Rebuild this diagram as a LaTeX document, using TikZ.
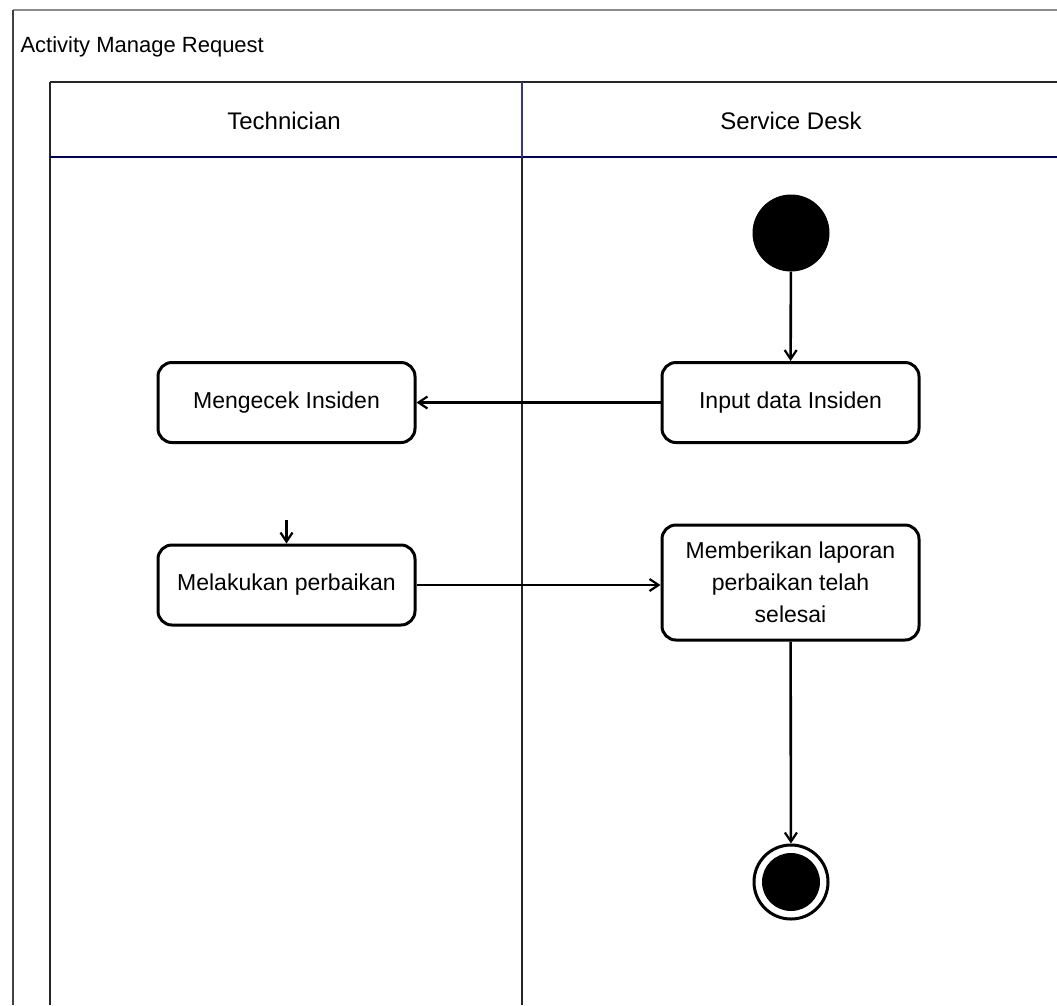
\documentclass[tikz,border=0pt]{standalone}
\usepackage{fontspec}
\setmainfont{Liberation Sans}
\usetikzlibrary{arrows.meta}
\begin{document}
\begin{tikzpicture}[x=1pt,y=-1pt,
  frame/.style={draw=black!75,line width=2.6pt},
  lane/.style={draw=black!85,line width=2.4pt},
  action/.style={draw=black,line width=3pt,rounded corners=14pt,fill=white,
    minimum width=257pt,minimum height=80pt,align=center,inner sep=4pt,
    font=\fontsize{23}{32}\selectfont},
  flow/.style={draw=black,line width=2.6pt,-{Straight Barb[length=9pt,width=12pt,line width=2.2pt]}},
  txt/.style={font=\fontsize{24}{28}\selectfont}]
\useasboundingbox (0,0) rectangle (1057,1005);
\fill[white] (0,0) rectangle (1057,1005);
% outer frame and title
\draw[draw=black!45,line width=2pt] (13,10) -- (1057,10);
\draw[frame] (13,10) -- (13,1005);
\node[txt,anchor=west,font=\fontsize{22}{26}\selectfont] (title) at (17,47) {Activity Manage Request};
% pool and lanes
\draw[lane] (50,82) -- (1057,82);
\draw[lane] (50,82) -- (50,1005);
\draw[lane,draw=blue!40!black] (50,157) -- (1057,157);
\draw[lane] (522,157) -- (522,1005);
\draw[lane,draw=blue!55!black!80] (522,82) -- (522,157);
\node[txt] (laneA) at (284,121) {Technician};
\node[txt] (laneB) at (791,121) {Service Desk};
% nodes
\node[circle,fill=black,draw=black,line width=1pt,minimum size=76pt,inner sep=0pt] (start) at (791,233) {};
\node[action] (input) at (790.5,402.5) {Input data Insiden};
\node[action] (check) at (286.5,402.5) {Mengecek Insiden};
\node[action] (fix) at (286.5,585) {Melakukan perbaikan};
\node[action,minimum height=115pt] (report) at (790.5,582.5) {Memberikan laporan\\perbaikan telah\\selesai};
\node[circle,draw=black,line width=3pt,minimum size=74pt,inner sep=0pt] (end) at (791,882) {};
\fill[black] (end.center) circle (29pt);
% connectors
\coordinate (fixin) at (286.5,520);
\draw[flow] (start) -- (input);
\draw[flow] (input) -- (check);
\draw[flow] (fixin) -- (fix.north);
\draw[flow] (fix) -- (report.west |- fix);
\draw[flow] (report) -- (end);
\end{tikzpicture}
\end{document}
